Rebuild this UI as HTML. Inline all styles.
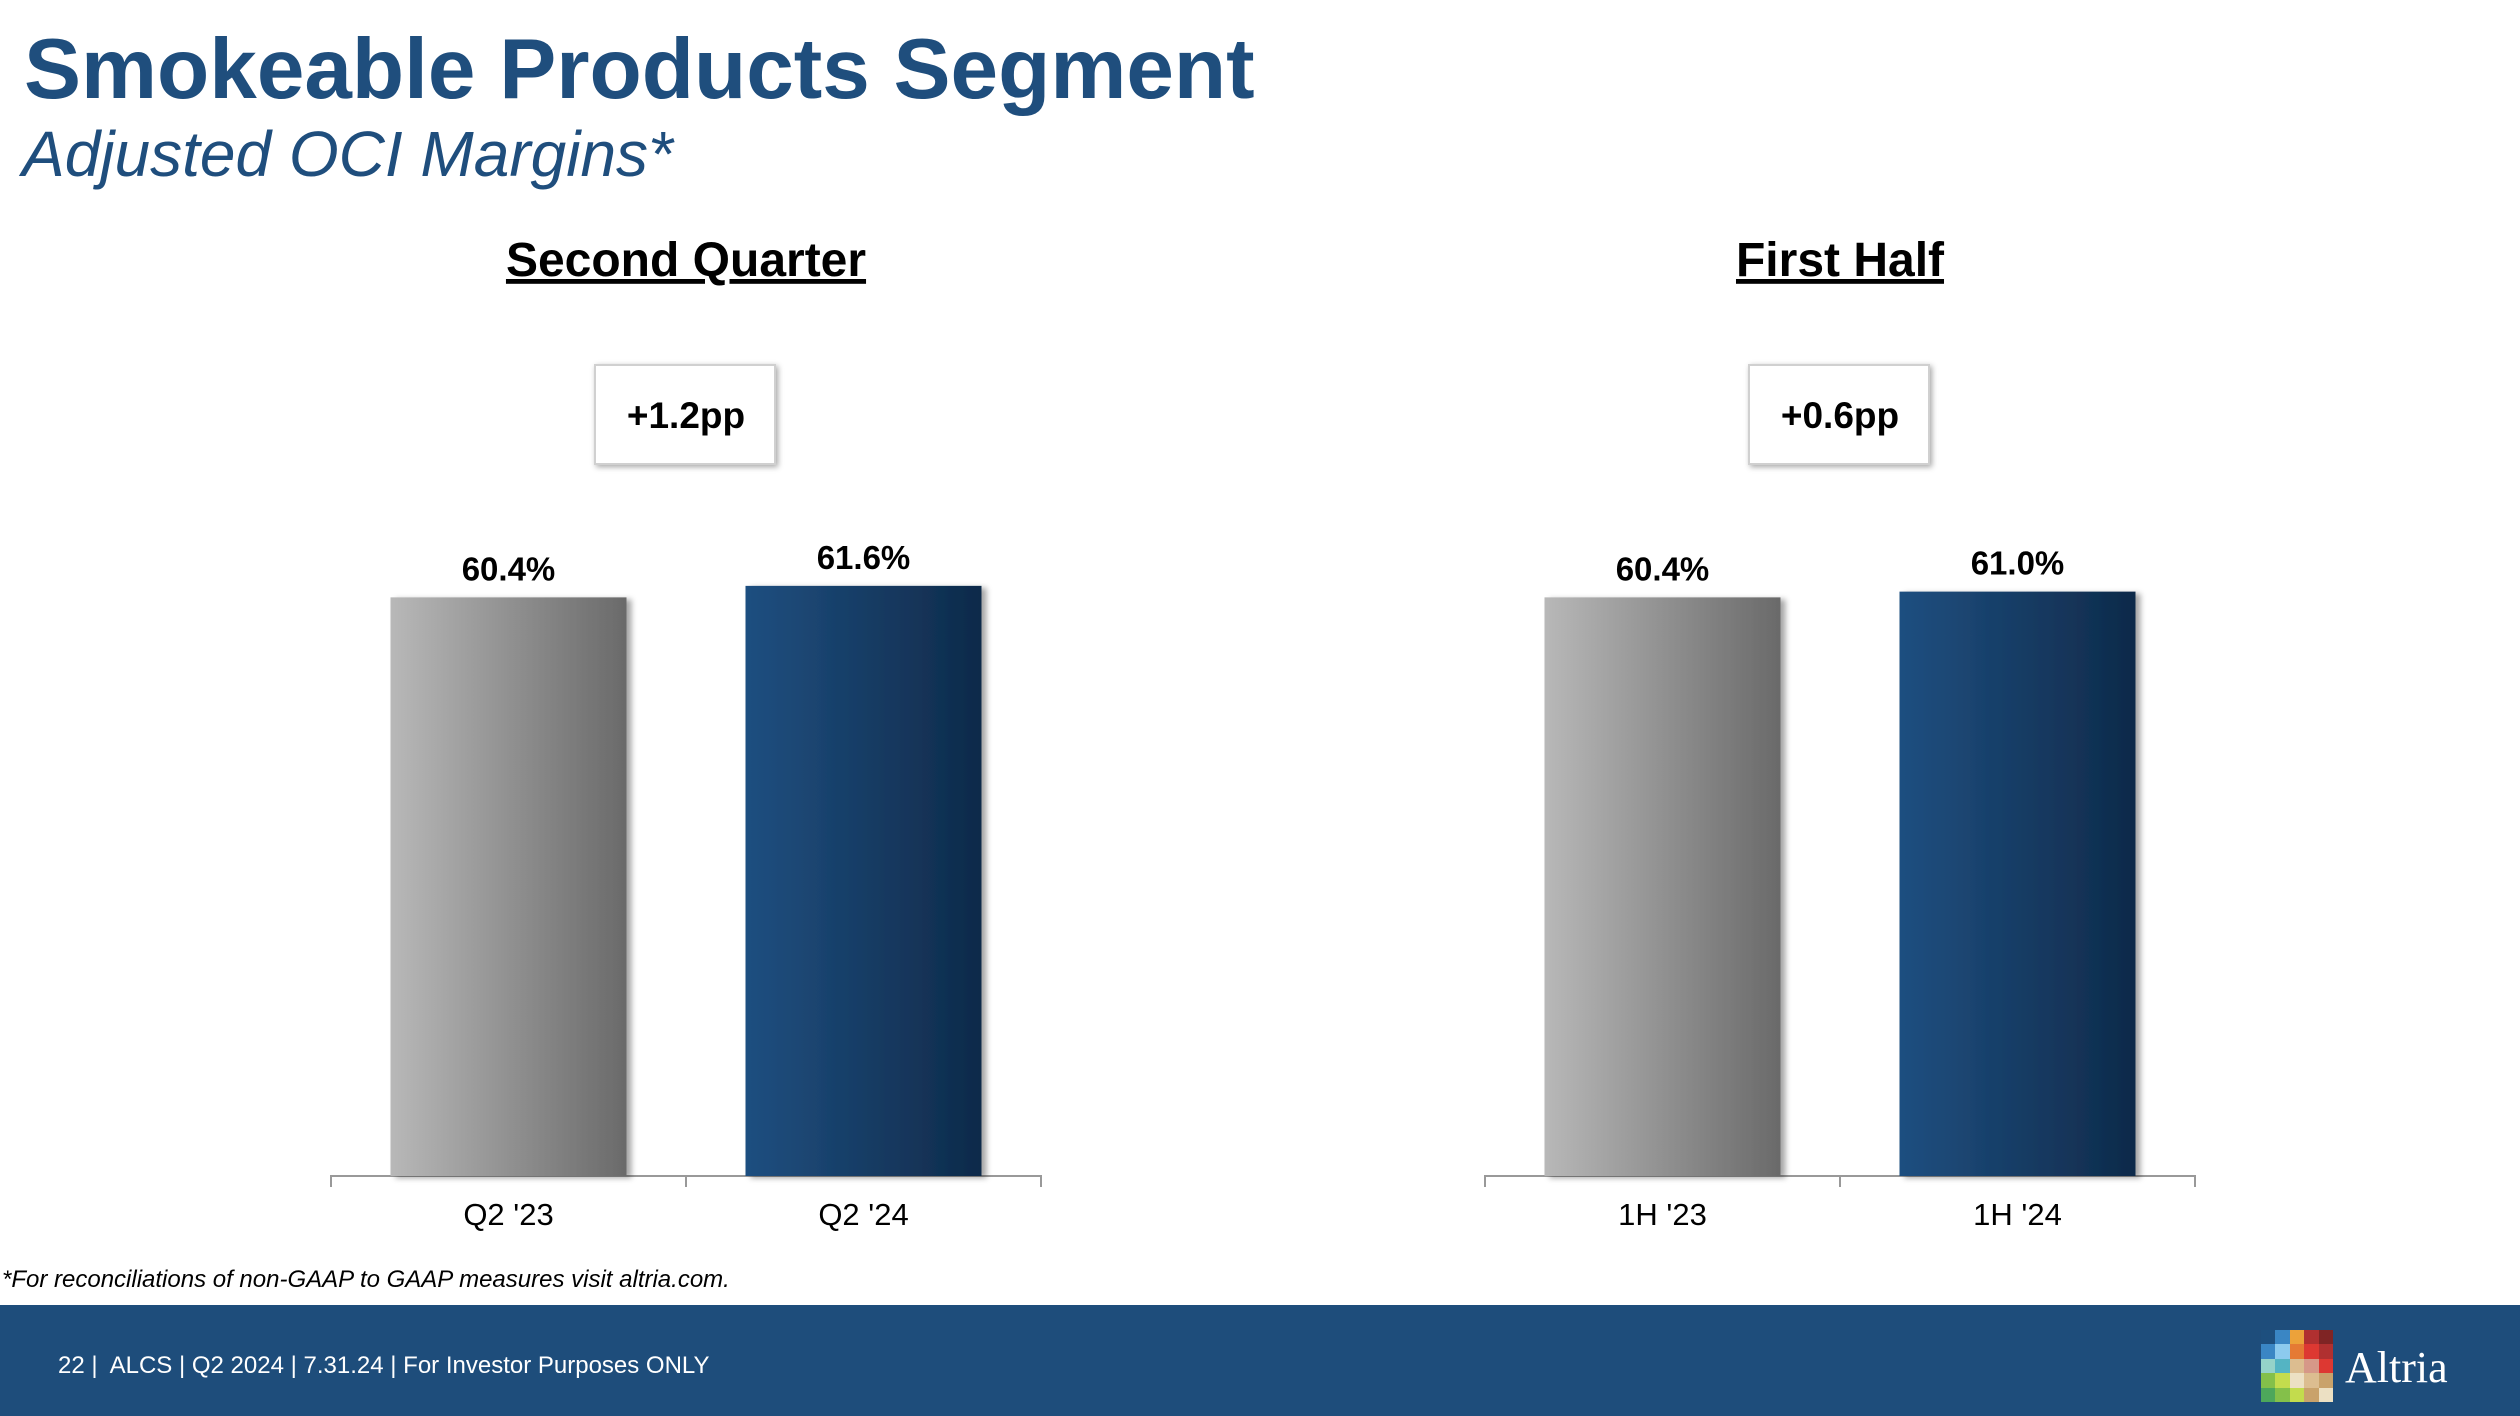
<!DOCTYPE html>
<html><head><meta charset="utf-8"><style>
body{margin:0;width:2520px;height:1416px;background:#fff;position:relative;overflow:hidden;font-family:"Liberation Sans",Arial,sans-serif}
.abs{position:absolute}
</style></head><body>
<div class="abs" style="left:24px;top:21px;font-size:85.5px;font-weight:bold;color:#1f4e7d;white-space:nowrap">Smokeable Products Segment</div>
<div class="abs" style="left:22px;top:117px;font-size:64px;font-style:italic;color:#1f4e7d;white-space:nowrap">Adjusted OCI Margins*</div>
<svg class="abs" style="left:0;top:0" width="2520" height="1416" id="chart"></svg>
<div class="abs" style="left:2px;top:1266px;font-size:24px;font-style:italic;color:#000">*For reconciliations of non-GAAP to GAAP measures visit altria.com.</div>
<div class="abs" style="left:0;top:1305px;width:2520px;height:111px;background:#1e4d7b"></div>
<div class="abs" style="left:58px;top:1352px;font-size:24px;color:#fff">22 |&nbsp; ALCS | Q2 2024 | 7.31.24 | For Investor Purposes ONLY</div>
<div class="abs" style="left:2261px;top:1330px;width:72px;height:72px" id="logo"></div>
<div class="abs" style="left:2345px;top:1342px;font-family:'Liberation Serif',serif;font-size:44px;color:#fff">Altria</div>
<script>
const groupTitles=["Second Quarter","First Half"];
const deltas=["+1.2pp","+0.6pp"];
const categories=[["Q2 '23","Q2 '24"],["1H '23","1H '24"]];
const values=[[60.4,61.6],[60.4,61.0]];
const NS="http://www.w3.org/2000/svg";
const svg=document.getElementById('chart');
const baseY=1176,pxPer=9.58;
const yScale=v=>baseY-v*pxPer;
const groupCenters=[686,1840];
const defs=document.createElementNS(NS,'defs');
defs.innerHTML='<linearGradient id="gGray"><stop offset="0" stop-color="#b8b8b8"/><stop offset="1" stop-color="#6a6a6a"/></linearGradient><linearGradient id="gBlue"><stop offset="0" stop-color="#1f4f80"/><stop offset="1" stop-color="#0e2a4a"/></linearGradient><filter id="sh" x="-20%" y="-5%" width="140%" height="110%"><feDropShadow dx="5" dy="2" stdDeviation="3" flood-opacity="0.35"/></filter><filter id="bsh" x="-20%" y="-20%" width="140%" height="140%"><feDropShadow dx="2" dy="2" stdDeviation="3" flood-opacity="0.35"/></filter>';
svg.appendChild(defs);
function mk(tag,attrs,text){const e=document.createElementNS(NS,tag);for(const k in attrs)e.setAttribute(k,attrs[k]);if(text!==undefined)e.textContent=text;svg.appendChild(e);return e;}
groupCenters.forEach((cx,g)=>{
  const t=mk('text',{x:cx,y:276,'text-anchor':'middle','font-size':48,'font-weight':'bold','text-decoration':'underline'},groupTitles[g]);
  
  
  const r=mk('rect',{x:cx-91,y:365,width:180,height:99,fill:'#fff',stroke:'#d0d0d0','stroke-width':2,filter:'url(#bsh)'});
  
  
  const d=mk('text',{x:cx,y:428,'text-anchor':'middle','font-size':37,'font-weight':'bold'},deltas[g]);
  
  
  const ax=mk('path',{d:`M${cx-355} ${baseY+11}V${baseY}H${cx+355}V${baseY+11}M${cx} ${baseY}V${baseY+11}`,stroke:'#999','stroke-width':2,fill:'none'});
  
  
  values[g].forEach((v,i)=>{
    const bx=cx+(i===0?-177.5:177.5);
    const top=yScale(v);
    const b=mk('rect',{x:bx-118,y:top,width:236,height:baseY-top,fill:i===0?'url(#gGray)':'url(#gBlue)',filter:'url(#sh)'});
    
    
    const l=mk('text',{x:bx,y:top-17,'text-anchor':'middle','font-size':33,'font-weight':'bold'},v.toFixed(1)+'%');
    
    
    const c=mk('text',{x:bx,y:1225,'text-anchor':'middle','font-size':31},categories[g][i]);
    
    
  });
});
const colors=[["#1d4f7e","#3a86c4","#eca23a","#b03030","#7f2424"],["#3a86c4","#8ccaee","#e57a34","#dd3832","#b03030"],["#95d3c9","#54b4c3","#dcbd90","#d69888","#dd3832"],["#84c04a","#c3dc4d","#ece0c3","#dcbd90","#c9a26b"],["#4da75b","#84c04a","#c3dc4d","#c9a26b","#ece0c3"]];
const logo=document.getElementById('logo');
colors.forEach((row,r)=>row.forEach((col,c)=>{const d=document.createElement('div');d.style.cssText=`position:absolute;left:${c*14.4}px;top:${r*14.4}px;width:14.4px;height:14.4px;background:${col}`;logo.appendChild(d);}));
</script>
</body></html>
